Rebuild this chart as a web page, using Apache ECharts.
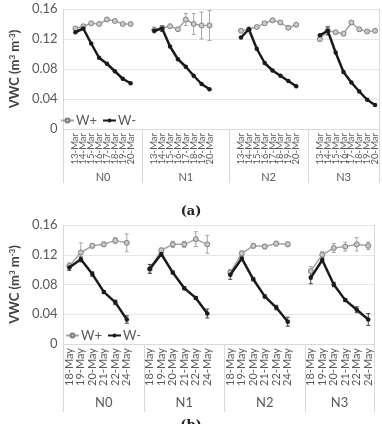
<!DOCTYPE html>
<html><head><meta charset="utf-8">
<script src="https://cdn.jsdelivr.net/npm/echarts@6/dist/echarts.min.js"></script>
<style>html,body{margin:0;padding:0;background:#fff}#c{width:382px;height:424px}</style>
</head><body><div id="c"></div>
<script>
// ---------- data ----------
const groups = ['N0', 'N1', 'N2', 'N3'];
const yTicks = [0, 0.04, 0.08, 0.12, 0.16];

// panel (a)
const datesA = ['13-Mar', '14-Mar', '15-Mar', '16-Mar', '17-Mar', '18-Mar', '19-Mar', '20-Mar'];
const padA = [[1, 1], [1, 2], [1, 1], [1, 0]]; // blank categories before/after each group
const wPlusA = [
  [0.134, 0.137, 0.141, 0.140, 0.146, 0.144, 0.140, 0.140],
  [0.132, 0.135, 0.137, 0.133, 0.146, 0.140, 0.138, 0.138],
  [0.131, 0.133, 0.136, 0.141, 0.145, 0.142, 0.135, 0.139],
  [0.120, 0.131, 0.129, 0.127, 0.142, 0.133, 0.130, 0.131]
];
const wMinusA = [
  [0.129, 0.134, 0.114, 0.095, 0.087, 0.077, 0.067, 0.061],
  [0.131, 0.134, 0.110, 0.093, 0.083, 0.071, 0.060, 0.053],
  [0.122, 0.133, 0.107, 0.088, 0.078, 0.071, 0.064, 0.057],
  [0.125, 0.131, 0.102, 0.076, 0.062, 0.050, 0.039, 0.032]
];
const errPlusA = [
  [0.002, 0.002, 0, 0, 0, 0, 0, 0],
  [0.004, 0.003, 0, 0, 0.008, 0.014, 0.018, 0.020],
  [0, 0, 0, 0, 0, 0, 0, 0],
  [0.003, 0.006, 0, 0, 0, 0, 0, 0]
];
const errMinusA = [
  [0, 0, 0, 0, 0, 0, 0, 0],
  [0, 0.004, 0, 0, 0, 0, 0, 0],
  [0, 0, 0, 0, 0, 0, 0, 0],
  [0, 0.005, 0, 0, 0, 0, 0, 0]
];

// panel (b)
const datesB = ['18-May', '19-May', '20-May', '21-May', '22-May', '24-May'];
const padB = [[0, 1], [0, 1], [0, 1], [0, 0]];
const wPlusB = [
  [0.105, 0.123, 0.132, 0.134, 0.139, 0.136],
  [0.101, 0.126, 0.134, 0.134, 0.141, 0.134],
  [0.096, 0.122, 0.132, 0.131, 0.135, 0.134],
  [0.098, 0.120, 0.129, 0.131, 0.134, 0.132]
];
const wMinusB = [
  [0.103, 0.114, 0.094, 0.070, 0.056, 0.033],
  [0.101, 0.121, 0.096, 0.075, 0.062, 0.041],
  [0.093, 0.115, 0.087, 0.064, 0.049, 0.030],
  [0.089, 0.113, 0.080, 0.059, 0.046, 0.033]
];
const errPlusB = [
  [0.004, 0.013, 0.003, 0.003, 0.004, 0.012],
  [0.006, 0.003, 0.004, 0.004, 0.010, 0.012],
  [0.004, 0.003, 0.003, 0.003, 0.003, 0.003],
  [0.006, 0.004, 0.006, 0.006, 0.009, 0.005]
];
const errMinusB = [
  [0.004, 0.003, 0.003, 0.002, 0.003, 0.005],
  [0.006, 0.003, 0.002, 0.002, 0.002, 0.006],
  [0.006, 0.002, 0.002, 0.002, 0.003, 0.006],
  [0.008, 0.003, 0.003, 0.002, 0.004, 0.008]
];

// ---------- build ----------
function buildPanel(dates, pads, plus, minus, eP, eM) {
  const cats = [], p = [], m = [], errP = [], errM = [], bounds = [], centers = {};
  groups.forEach((g, gi) => {
    const start = cats.length;
    bounds.push(start);
    for (let i = 0; i < pads[gi][0]; i++) { cats.push(''); p.push(null); m.push(null); }
    dates.forEach((d, di) => {
      const idx = cats.length;
      cats.push(d); p.push(plus[gi][di]); m.push(minus[gi][di]);
      if (eP[gi][di] > 0) errP.push([idx, plus[gi][di] - eP[gi][di], plus[gi][di] + eP[gi][di]]);
      if (eM[gi][di] > 0) errM.push([idx, minus[gi][di] - eM[gi][di], minus[gi][di] + eM[gi][di]]);
    });
    for (let i = 0; i < pads[gi][1]; i++) { cats.push(''); p.push(null); m.push(null); }
    centers[(start + cats.length) / 2] = g;
  });
  return { cats, p, m, errP, errM, bounds, centers, n: cats.length };
}
const A = buildPanel(datesA, padA, wPlusA, wMinusA, errPlusA, errMinusA);
const B = buildPanel(datesB, padB, wPlusB, wMinusB, errPlusB, errMinusB);

const FONT = 'Lato, "Open Sans", sans-serif';
const GREY = '#595959';
const LINEC = '#d9d9d9';

function catAxis(P, gi, fs, tickLen) {
  const b = new Set(P.bounds);
  return {
    type: 'category', gridIndex: gi, data: P.cats, position: 'bottom',
    axisLine: { show: true, lineStyle: { color: LINEC } },
    axisTick: { show: true, length: tickLen, interval: (i) => b.has(i), lineStyle: { color: LINEC } },
    axisLabel: { interval: 0, rotate: 90, fontSize: fs, color: GREY, fontFamily: FONT, margin: 4 },
    splitLine: { show: false }
  };
}
function groupAxis(P, gi, fs, off) {
  return {
    type: 'value', gridIndex: gi, min: 0, max: P.n, interval: 0.5, position: 'bottom', offset: off,
    axisLine: { show: false }, axisTick: { show: false }, splitLine: { show: false },
    axisLabel: { fontSize: fs, color: GREY, fontFamily: FONT, margin: 0,
      showMinLabel: true, showMaxLabel: true,
      formatter: (v) => P.centers[v] || '' }
  };
}
function valAxis(gi) {
  return {
    type: 'value', gridIndex: gi, min: yTicks[0], max: yTicks[yTicks.length - 1], interval: 0.04,
    position: 'left',
    name: 'VWC (m{s|3} m{s|-3})', nameLocation: 'middle', nameGap: 37,
    nameTextStyle: { fontSize: 13, fontWeight: 'bold', color: '#404040', fontFamily: FONT,
      rich: { s: { fontSize: 8, fontWeight: 'bold', color: '#404040', fontFamily: FONT, verticalAlign: 'top' } } },
    axisLine: { show: true, lineStyle: { color: LINEC } }, axisTick: { show: false },
    splitLine: { show: true, lineStyle: { color: '#e6e6e6' } },
    axisLabel: { fontSize: 13, color: GREY, fontFamily: FONT, margin: 6,
      formatter: (v) => v === 0 ? '0' : v.toFixed(2) }
  };
}
function rightAxis(gi) {
  return { type: 'value', gridIndex: gi, min: 0, max: 0.16, position: 'right',
    axisLine: { show: true, lineStyle: { color: LINEC } }, axisTick: { show: false },
    axisLabel: { show: false }, splitLine: { show: false } };
}
function errSeries(data, xi, yi, color) {
  return {
    type: 'custom', xAxisIndex: xi, yAxisIndex: yi, data: data, z: 1, silent: true,
    encode: { x: 0, y: [1, 2] },
    renderItem: (params, api) => {
      const lo = api.coord([api.value(0), api.value(1)]);
      const hi = api.coord([api.value(0), api.value(2)]);
      const st = { stroke: color, lineWidth: 1 };
      return { type: 'group', children: [
        { type: 'line', shape: { x1: lo[0], y1: lo[1], x2: hi[0], y2: hi[1] }, style: st },
        { type: 'line', shape: { x1: lo[0] - 2, y1: lo[1], x2: lo[0] + 2, y2: lo[1] }, style: st },
        { type: 'line', shape: { x1: hi[0] - 2, y1: hi[1], x2: hi[0] + 2, y2: hi[1] }, style: st }
      ] };
    }
  };
}
function plusSeries(data, xi, yi) {
  return { name: 'W+', type: 'line', xAxisIndex: xi, yAxisIndex: yi, data: data, z: 3,
    symbol: 'circle', symbolSize: 5, showAllSymbol: true,
    lineStyle: { color: '#a6a6a6', width: 1.5 },
    itemStyle: { color: '#c9c9c9', borderColor: '#7f7f7f', borderWidth: 1 } };
}
function minusSeries(data, xi, yi) {
  return { name: 'W-', type: 'line', xAxisIndex: xi, yAxisIndex: yi, data: data, z: 4,
    symbol: 'circle', symbolSize: 4.5, showAllSymbol: true,
    lineStyle: { color: '#1a1a1a', width: 2.5 },
    itemStyle: { color: '#1a1a1a' } };
}
function legendAt(left, top) {
  return { left: left, top: top, orient: 'horizontal', itemWidth: 13, itemHeight: 5, itemGap: 5,
    data: ['W+', 'W-'], selectedMode: false,
    textStyle: { fontSize: 13, color: GREY, fontFamily: FONT, padding: [0, 0, 0, -3] } };
}

const option = {
  animation: false,
  backgroundColor: '#fff',
  title: [
    { text: '(a)', left: 'center', top: 200, textStyle: { fontFamily: '"DejaVu Serif", serif', fontWeight: 'bold', fontSize: 13, color: '#222' } },
    { text: '(b)', left: 'center', top: 414, textStyle: { fontFamily: '"DejaVu Serif", serif', fontWeight: 'bold', fontSize: 13, color: '#222' } }
  ],
  legend: [legendAt(55, 109), legendAt(60, 324)],
  grid: [
    { left: 50, top: 9, width: 330, height: 120 },
    { left: 52, top: 225, width: 322, height: 119 }
  ],
  xAxis: [
    catAxis(A, 0, 9.5, 54),
    groupAxis(A, 0, 11, 43),
    catAxis(B, 1, 11, 68),
    groupAxis(B, 1, 13, 52)
  ],
  yAxis: [valAxis(0), rightAxis(0), valAxis(1), rightAxis(1)],
  series: [
    errSeries(A.errP, 0, 0, '#a6a6a6'),
    errSeries(A.errM, 0, 0, '#404040'),
    plusSeries(A.p, 0, 0),
    minusSeries(A.m, 0, 0),
    errSeries(B.errP, 2, 2, '#a6a6a6'),
    errSeries(B.errM, 2, 2, '#404040'),
    plusSeries(B.p, 2, 2),
    minusSeries(B.m, 2, 2)
  ]
};
const chart = echarts.init(document.getElementById('c'), null, { renderer: 'canvas' });
chart.setOption(option);
</script></body></html>
